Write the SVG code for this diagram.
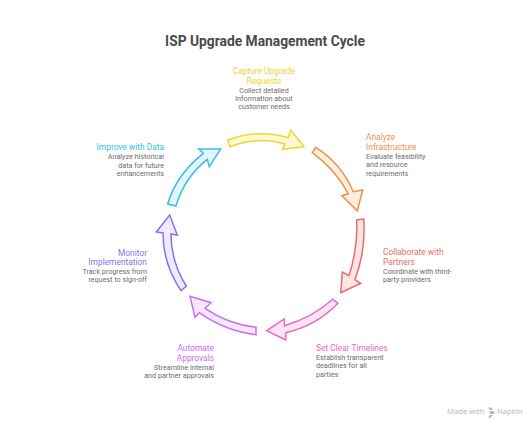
<svg xmlns="http://www.w3.org/2000/svg" width="530" height="430" viewBox="0 0 530 430">
<style>
text{font-family:Roboto,"Liberation Sans",sans-serif}
.t{font-size:13.800px;font-weight:700;fill:#484848}
.h{font-size:8.400px}
.b{font-size:7.200px;fill:#6b6b6b}
.e{text-anchor:end}.m{text-anchor:middle}
.a{stroke-width:1.5;stroke-linejoin:miter}
.w{font-size:7.700px;fill:#b4b4b4;font-family:"Open Sans",sans-serif}
g{opacity:.99}
</style>
<rect width="530" height="430" fill="#fff"/>
<g id="title"><text class="t m" x="265" y="46">ISP Upgrade Management Cycle</text></g>
<g id="connectors" class="a">
<path fill="#fef9d2" stroke="#eed52f" d="M227.700 140.300Q258 128.500 288.300 137.700L290.700 130L304 146.700L282.300 149.300L285 144Q258 136 230 146.700Z"/>
<path fill="#feeee0" stroke="#ee9148" d="M315.700 147.300Q341 163 353.300 191.700L362.700 190L357.300 210.700L341.700 195.700L348.300 194Q336 170 312.300 152.700Z"/>
<path fill="#fde5e5" stroke="#ee6a6a" d="M363.700 219Q366 250 355 279.700L360.700 283.300L340.700 292.700L342.300 272L349 275.700Q358 248 356.700 220Z"/>
<path fill="#fde5f3" stroke="#ea68c4" d="M338 303.300Q316 326 285.700 332.700L285.700 340L266.700 330.700L284.300 319L284.300 325.700Q312 318 332.700 299.300Z"/>
<path fill="#f6e7fd" stroke="#cc6bee" d="M256 334.700Q225 331 199.300 312.700L195 317.300L190 296.300L211 302.700L205 308.300Q228 324 256 327.300Z"/>
<path fill="#eeebfe" stroke="#8b6ff0" d="M181 290.700Q163 264 163 233L156.300 232L169.700 215L177.300 235L171 234Q171 262 186.300 286Z"/>
<path fill="#e2f6fe" stroke="#37bce8" d="M167.700 204Q176 175 203.300 153.300L198.700 149L220.700 149L209.300 166.700L207.300 159.300Q184 178 176 206Z"/>
</g>
<g id="node-capture" class="m">
<text class="h" x="264" y="74" fill="#eed52f">Capture Upgrade</text>
<text class="h" x="264" y="84" fill="#eed52f">Requests</text>
<text class="b" x="264" y="92.500">Collect detailed</text>
<text class="b" x="264" y="101">information about</text>
<text class="b" x="264" y="109">customer needs</text>
</g>
<g id="node-analyze">
<text class="h" x="366" y="140" fill="#ee9148">Analyze</text>
<text class="h" x="366" y="150" fill="#ee9148">Infrastructure</text>
<text class="b" x="366" y="159">Evaluate feasibility</text>
<text class="b" x="366" y="167">and resource</text>
<text class="b" x="366" y="175.500">requirements</text>
</g>
<g id="node-collaborate">
<text class="h" x="383" y="255" fill="#ee6a6a">Collaborate with</text>
<text class="h" x="383" y="265" fill="#ee6a6a">Partners</text>
<text class="b" x="383" y="273.500">Coordinate with third-</text>
<text class="b" x="383" y="282">party providers</text>
</g>
<g id="node-timelines">
<text class="h" x="316" y="351" fill="#ea68c4">Set Clear Timelines</text>
<text class="b" x="316" y="359.500">Establish transparent</text>
<text class="b" x="316" y="368">deadlines for all</text>
<text class="b" x="316" y="376.500">parties</text>
</g>
<g id="node-approvals" class="e">
<text class="h" x="214" y="351" fill="#cc6bee">Automate</text>
<text class="h" x="214" y="361" fill="#cc6bee">Approvals</text>
<text class="b" x="214" y="369.500">Streamline internal</text>
<text class="b" x="214" y="378">and partner approvals</text>
</g>
<g id="node-monitor" class="e">
<text class="h" x="147" y="255.500" fill="#8b6ff0">Monitor</text>
<text class="h" x="147" y="265" fill="#8b6ff0">Implementation</text>
<text class="b" x="147" y="273.500">Track progress from</text>
<text class="b" x="147" y="282">request to sign-off</text>
</g>
<g id="node-improve" class="e">
<text class="h" x="164" y="150" fill="#37bce8">Improve with Data</text>
<text class="b" x="164" y="159">Analyze historical</text>
<text class="b" x="164" y="167.500">data for future</text>
<text class="b" x="164" y="176">enhancements</text>
</g>
<g id="watermark">
<text class="w" x="447" y="414">Made with</text>
<path fill="#b4b4b4" d="M488 407.500h3l2 2.500h-3zM489 411h4l2 2-2 1h-4l1.500-1.500zM488 418l2-3h3l-3 3z"/>
<text class="w" x="497" y="414">Napkin</text>
</g>
</svg>
